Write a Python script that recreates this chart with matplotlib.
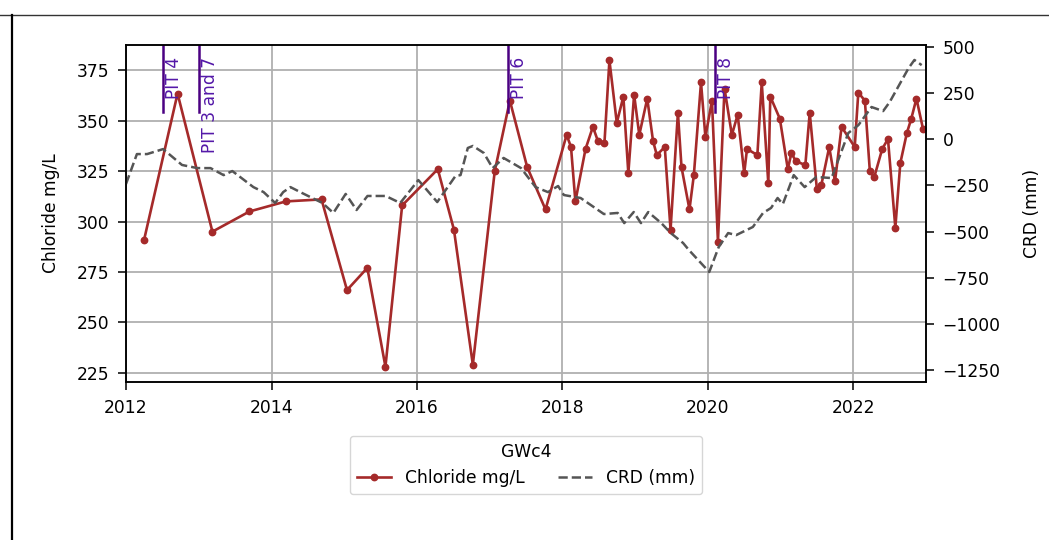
import numpy as np
import pandas as pd
import matplotlib
matplotlib.use("Agg")
import matplotlib.pyplot as plt
import matplotlib.dates as mdates
from matplotlib.ticker import MultipleLocator
from matplotlib.lines import Line2D

# chloride samples (mg/L)
cl_dates = [
    "2012-04-01", "2012-09-16", "2013-03-10", "2013-09-12", "2014-03-14", "2014-09-09",
    "2015-01-15", "2015-04-27", "2015-07-27", "2015-10-19", "2016-04-15", "2016-07-05",
    "2016-10-08", "2017-01-26", "2017-04-12", "2017-07-08", "2017-10-08", "2018-01-22",
    "2018-02-13", "2018-03-07", "2018-04-27", "2018-06-03", "2018-06-28", "2018-07-31",
    "2018-08-25", "2018-10-01", "2018-11-03", "2018-11-28", "2018-12-27", "2019-01-22",
    "2019-03-03", "2019-04-01", "2019-04-20", "2019-05-30", "2019-06-28", "2019-08-04",
    "2019-08-22", "2019-10-01", "2019-10-23", "2019-11-28", "2019-12-20", "2020-01-22",
    "2020-02-21", "2020-03-25", "2020-05-01", "2020-05-30", "2020-07-02", "2020-07-16",
    "2020-09-06", "2020-09-28", "2020-10-31", "2020-11-10", "2020-12-28", "2021-02-06",
    "2021-02-24", "2021-03-18", "2021-05-05", "2021-05-27", "2021-07-02", "2021-07-24",
    "2021-09-02", "2021-10-01", "2021-11-03", "2022-01-08", "2022-01-26", "2022-02-28",
    "2022-03-25", "2022-04-16", "2022-05-26", "2022-06-24", "2022-07-31", "2022-08-25",
    "2022-09-27", "2022-10-19", "2022-11-14", "2022-12-17",
]
cl_values = [
    291, 363.5, 295, 305, 310, 311, 266, 277, 228, 308, 326, 296,
    229, 325, 360, 327, 306, 343, 337, 310, 336, 347, 340, 339,
    380, 349, 362, 324, 363, 343, 361, 340, 333, 337, 296, 354,
    327, 306, 323, 369, 342, 360, 290, 366, 343, 353, 324, 336,
    333, 369, 319, 362, 351, 326, 334, 330, 328, 354, 316, 318,
    337, 320, 347, 337, 364, 360, 325, 322, 336, 341, 297, 329,
    344, 351, 361, 346,
]

# cumulative rainfall departure (mm)
crd_years = [
    2012.00, 2012.15, 2012.29, 2012.51, 2012.77, 2012.98, 2013.16, 2013.34, 2013.46,
    2013.75, 2013.89, 2014.05, 2014.16, 2014.26, 2014.42, 2014.70, 2014.85, 2015.02,
    2015.17, 2015.32, 2015.57, 2015.77, 2016.02, 2016.28, 2016.53, 2016.60, 2016.70,
    2016.77, 2016.92, 2017.04, 2017.19, 2017.43, 2017.63, 2017.80, 2017.94, 2018.02,
    2018.25, 2018.57, 2018.76, 2018.85, 2018.98, 2019.08, 2019.18, 2019.36, 2019.49,
    2019.66, 2019.74, 2020.02, 2020.15, 2020.28, 2020.39, 2020.62, 2020.76, 2020.87,
    2020.96, 2021.03, 2021.18, 2021.33, 2021.49, 2021.70, 2021.93, 2022.07, 2022.25,
    2022.41, 2022.50, 2022.76, 2022.84, 2022.94,
]
crd_values = [
    -242, -80, -80, -53, -139, -156, -156, -194, -172,
    -259, -286, -345, -286, -259, -291, -345, -399, -296,
    -383, -307, -307, -345, -221, -340, -199, -194, -47,
    -36, -74, -156, -101, -156, -259, -286, -253, -302,
    -318, -405, -399, -454, -394, -454, -394, -454, -508,
    -562, -600, -719, -584, -508, -519, -475, -399, -372,
    -318, -351, -194, -259, -204, -210, 34, 77, 175,
    153, 202, 386, 430, 402,
]

# pit events
pit_labels = ["PIT 4", "PIT 3 and 7", "PIT 6", "PIT 8"]
pit_dates = ["2012-07-05", "2013-01-01", "2017-04-05", "2020-02-06"]


def year_to_date(y):
    yr = int(np.floor(y))
    start = pd.Timestamp(f"{yr}-01-01")
    return start + pd.Timedelta(days=(y - yr) * 365.25)


plt.rcParams["font.size"] = 12.3

fig = plt.figure(figsize=(10.49, 5.4), dpi=100)
ax1 = fig.add_axes([126 / 1049, 1 - 382 / 540, 800 / 1049, 337 / 540])
ax2 = ax1.twinx()

cl_x = pd.to_datetime(cl_dates)
crd_x = [year_to_date(y) for y in crd_years]

l1, = ax1.plot(cl_x, cl_values, color="#a52a2a", marker="o", markersize=4.6,
               linewidth=1.9, label="Chloride mg/L")
l2, = ax2.plot(crd_x, crd_values, color="#555555", linestyle="--",
               linewidth=1.8, label="CRD (mm)")

for lab, d in zip(pit_labels, pit_dates):
    xd = pd.Timestamp(d)
    ax1.axvline(xd, ymin=0.8, ymax=1.0, color="indigo", linewidth=1.8)
    ax1.text(xd + pd.Timedelta(days=10), 0.965, lab, rotation=90, va="top", ha="left",
             color="#5418a8", fontsize=12.3, transform=ax1.get_xaxis_transform())

ax1.set_xlim(pd.Timestamp("2012-01-01"), pd.Timestamp("2023-01-01"))
ax1.xaxis.set_major_locator(mdates.YearLocator(2))
ax1.xaxis.set_major_formatter(mdates.DateFormatter("%Y"))
ax1.yaxis.set_major_locator(MultipleLocator(25))
ax2.set_ylim(-1315, 511)

ax1.grid(True, color="#b0b0b0", linewidth=1.3)
ax1.set_ylabel("Chloride mg/L", labelpad=12)
ax2.set_ylabel("CRD (mm)", labelpad=16)

for ax in (ax1, ax2):
    ax.tick_params(length=6, width=1.1, pad=6)
    for sp in ax.spines.values():
        sp.set_linewidth(1.1)

ax1.legend(handles=[l1, l2], title="GWc4", loc="upper center",
           bbox_to_anchor=(0.5, -0.135), ncol=2, fontsize=12.3, title_fontsize=12.3,
           columnspacing=2.0)

# notebook frame lines
fig.add_artist(Line2D([0, 1], [1 - 14.5 / 540, 1 - 14.5 / 540], color="#333333", linewidth=1.0))
fig.add_artist(Line2D([12 / 1049, 12 / 1049], [0, 1 - 14.5 / 540], color="black", linewidth=1.6))

fig.savefig("out.png", dpi=100)
